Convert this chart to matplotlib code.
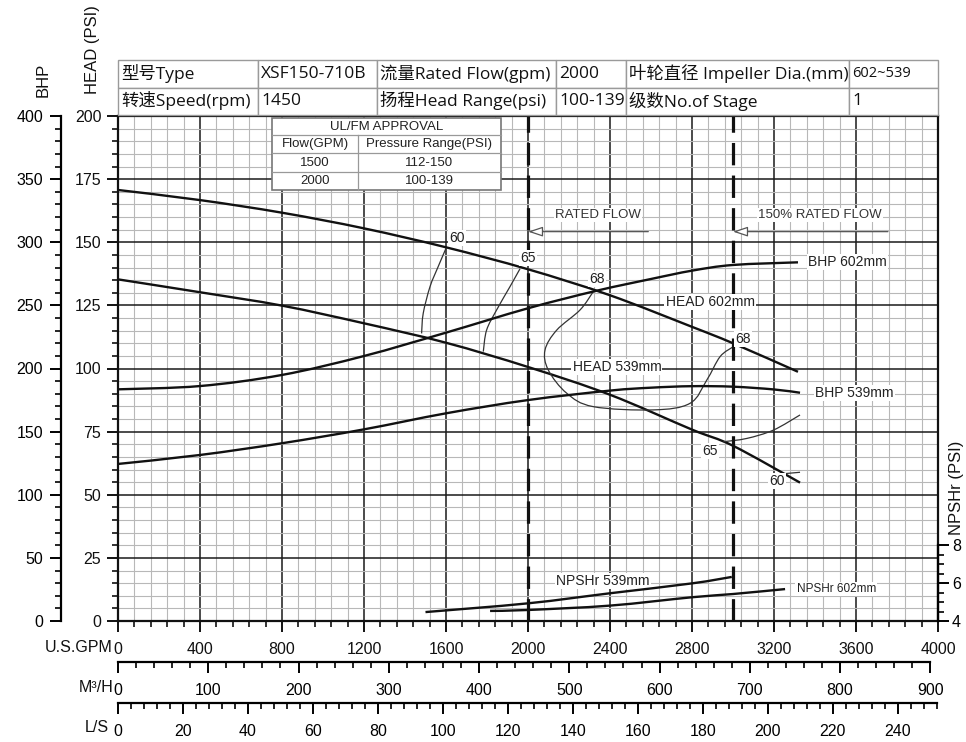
import matplotlib
matplotlib.use("Agg")
import matplotlib.pyplot as plt
from matplotlib.patches import Rectangle, PathPatch
from matplotlib.path import Path
from matplotlib.ticker import MultipleLocator, FixedLocator
import numpy as np

# ---------------- data ----------------
flow_602_head = [0, 400, 800, 1200, 1600, 2000, 2400, 2800, 3000, 3317]
head_602 = [170.7, 166.7, 161.7, 155.5, 148.0, 139.3, 129.0, 116.5, 110.0, 98.7]
flow_539_head = [0, 400, 800, 1200, 1600, 2000, 2400, 2800, 3000, 3327]
head_539 = [135.3, 130.2, 124.9, 117.9, 110.2, 100.6, 89.6, 75.8, 69.4, 54.8]

flow_602_bhp = [0, 400, 800, 1200, 1600, 2000, 2335, 2600, 2800, 3000, 3317]
bhp_602 = [183.5, 186.1, 194.9, 209.9, 228.4, 247.7, 261.6, 270.9, 277.5, 282.0, 284.1]
flow_539_bhp = [0, 400, 800, 1200, 1600, 2000, 2400, 2600, 2800, 3000, 3200, 3327]
bhp_539 = [124.4, 131.5, 140.8, 151.8, 164.5, 175.0, 182.5, 184.8, 186.0, 185.6, 183.4, 180.8]

flow_539_npsh = [1500, 2000, 2400, 2800, 2994]
npsh_539 = [4.47, 4.93, 5.46, 5.98, 6.32]
flow_602_npsh = [1815, 2000, 2400, 2800, 3000, 3254]
npsh_602 = [4.53, 4.58, 4.81, 5.25, 5.42, 5.68]

# iso-efficiency curves (flow gpm, head psi)
eff60a_flow = [1600, 1560, 1522, 1489, 1481]
eff60a_head = [147.6, 140.0, 132.4, 121.9, 113.9]
eff65a_flow = [1961, 1912, 1847, 1798, 1782]
eff65a_head = [139.5, 132.4, 123.2, 115.2, 106.7]
eff68_flow = [2318, 2254, 2140, 2083, 2099, 2189, 2318, 2611, 2790, 2872, 2937, 3001]
eff68_head = [130.4, 123.2, 115.2, 107.3, 99.4, 90.2, 84.9, 83.6, 86.2, 95.4, 104.7, 108.6]
eff65b_flow = [2953, 3067, 3197, 3327]
eff65b_head = [71.0, 72.3, 75.6, 81.6]
eff60b_flow = [3229, 3327]
eff60b_head = [58.2, 58.9]

eff_labels = ["60", "65", "68", "68", "65", "60"]
eff_label_flow = [1654, 2000, 2337, 3049, 2888, 3215]
eff_label_head = [151.7, 143.8, 135.4, 111.7, 67.3, 55.4]

rated_flow = 2000
flow_150 = 3000

gpm_ticks = list(range(0, 4001, 400))
head_ticks = list(range(0, 201, 25))
bhp_ticks = list(range(0, 401, 50))
npsh_ticks = [4, 6, 8]
m3h_ticks = list(range(0, 901, 100))
ls_ticks = list(range(0, 241, 20))

header_row1 = ["型号Type", "XSF150-710B", "流量Rated Flow(gpm)", "2000",
               "叶轮直径 Impeller Dia.(mm)", "602~539"]
header_row2 = ["转速Speed(rpm)", "1450", "扬程Head Range(psi)", "100-139",
               "级数No.of Stage", "1"]
ul_title = "UL/FM APPROVAL"
ul_header = ["Flow(GPM)", "Pressure Range(PSI)"]
ul_flows = ["1500", "2000"]
ul_pressures = ["112-150", "100-139"]

GPM_PER_M3H = 4.4029
GPM_PER_LS = 15.850

# ---------------- figure ----------------
plt.rcParams['font.family'] = ['Liberation Sans', 'DejaVu Sans']
W, H = 966, 742
fig = plt.figure(figsize=(W / 100, H / 100), dpi=100)


def fx(px):
    return px / W


def fy(py):
    return 1 - py / H


def smooth_curve(axis, xs, ys, **kw):
    """Draw a smooth (cubic Bezier, Catmull-Rom style) curve through the points."""
    pts = np.column_stack([xs, ys]).astype(float)
    verts = [pts[0]]
    codes = [Path.MOVETO]
    n = len(pts)
    for i in range(n - 1):
        p0 = pts[i - 1] if i > 0 else pts[i]
        p1 = pts[i]
        p2 = pts[i + 1]
        p3 = pts[i + 2] if i + 2 < n else pts[i + 1]
        verts += [p1 + (p2 - p0) / 6.0, p2 - (p3 - p1) / 6.0, p2]
        codes += [Path.CURVE4] * 3
    axis.add_patch(PathPatch(Path(verts, codes), fill=False, capstyle='butt', **kw))


X0, X1, Y0, Y1 = 118, 938, 621, 116
ax = fig.add_axes([fx(X0), fy(Y0), fx(X1) - fx(X0), fy(Y1) - fy(Y0)])
ax.set_xlim(0, 4000)
ax.set_ylim(0, 200)
ax.set_xticks(gpm_ticks)
ax.xaxis.set_minor_locator(MultipleLocator(80))
ax.set_yticks(head_ticks)
ax.yaxis.set_minor_locator(MultipleLocator(5))
ax.set_axisbelow(True)
ax.grid(True, which='minor', color='#b8b8b8', lw=0.8)
ax.grid(True, which='major', color='#1a1a1a', lw=1.1)
for s in ax.spines.values():
    s.set_linewidth(1.6)
    s.set_color('#111')
ax.tick_params(axis='both', which='major', direction='out', length=8, width=1.4,
               labelsize=11.5, pad=4, colors='#111')
ax.tick_params(axis='both', which='minor', direction='out', length=4, width=1.2, colors='#111')
ax.tick_params(axis='x', which='major', pad=7)

# BHP axis
ax_b = ax.twinx()
ax_b.set_ylim(0, 400)
ax_b.yaxis.tick_left()
ax_b.spines['left'].set_position(('outward', 41))
for k in ['right', 'top', 'bottom']:
    ax_b.spines[k].set_visible(False)
ax_b.spines['left'].set_linewidth(1.6)
ax_b.set_yticks(bhp_ticks)
ax_b.yaxis.set_minor_locator(MultipleLocator(10))
ax_b.tick_params(axis='y', which='major', direction='out', length=8, width=1.4, labelsize=11.5, pad=5)
ax_b.tick_params(axis='y', which='minor', direction='out', length=4, width=1.2)

# NPSHr axis
ax_n = ax.twinx()
ax_n.set_ylim(4, 4 + 505 / 19)
for k in ['left', 'top', 'bottom']:
    ax_n.spines[k].set_visible(False)
ax_n.spines['right'].set_bounds(4, 8)
ax_n.spines['right'].set_linewidth(1.6)
ax_n.set_yticks(npsh_ticks)
ax_n.yaxis.set_minor_locator(FixedLocator([4.5, 5, 5.5, 6.5, 7, 7.5]))
ax_n.tick_params(axis='y', which='major', direction='out', length=8, width=1.4, labelsize=11.5, pad=2)
ax_n.tick_params(axis='y', which='minor', direction='out', length=4, width=1.2)

# ---------------- curves ----------------
lc = '#111111'
smooth_curve(ax, flow_602_head, head_602, ec=lc, lw=1.7, zorder=3)
smooth_curve(ax, flow_539_head, head_539, ec=lc, lw=1.7, zorder=3)
smooth_curve(ax_b, flow_602_bhp, bhp_602, ec=lc, lw=1.7, zorder=3)
smooth_curve(ax_b, flow_539_bhp, bhp_539, ec=lc, lw=1.7, zorder=3)
smooth_curve(ax_n, flow_539_npsh, npsh_539, ec=lc, lw=1.7, zorder=3)
smooth_curve(ax_n, flow_602_npsh, npsh_602, ec=lc, lw=1.7, zorder=3)

ec = '#333333'
for fl, hd in [(eff60a_flow, eff60a_head), (eff65a_flow, eff65a_head), (eff68_flow, eff68_head),
               (eff65b_flow, eff65b_head), (eff60b_flow, eff60b_head)]:
    smooth_curve(ax, fl, hd, ec=ec, lw=0.9, zorder=3)

wb = dict(fc='white', ec='none', pad=0.8)
for t, xv, yv in zip(eff_labels, eff_label_flow, eff_label_head):
    ax.text(xv, yv, t, ha='center', va='center', fontsize=10, color='#222', bbox=wb, zorder=4)

# rated flow lines
for xv in [rated_flow, flow_150]:
    ax.axvline(xv, color='#111', lw=2.3, linestyle=(0, (7, 3.2)), zorder=3)

# curve labels
ax.text(3366, 142.2, "BHP 602mm", ha='left', va='center', fontsize=10, color='#222', bbox=wb, zorder=4)
ax.text(2888, 126.3, "HEAD 602mm", ha='center', va='center', fontsize=10, color='#222', bbox=wb, zorder=4)
ax.text(2434, 100.6, "HEAD 539mm", ha='center', va='center', fontsize=10, color='#222', bbox=wb, zorder=4)
ax.text(3400, 90.4, "BHP 539mm", ha='left', va='center', fontsize=10, color='#222', bbox=wb, zorder=4)
ax.text(2366, 15.8, "NPSHr 539mm", ha='center', va='center', fontsize=10, color='#222', bbox=wb, zorder=4)
ax.text(3310, 12.7, "NPSHr 602mm", ha='left', va='center', fontsize=8.5, color='#222', bbox=wb, zorder=4)

# rated flow annotations
ax.text(2341, 160.8, "RATED FLOW", ha='center', va='center', fontsize=9.5, color='#333', bbox=wb, zorder=4)
ax.text(3424, 160.8, "150% RATED FLOW", ha='center', va='center', fontsize=9.5, color='#333', bbox=wb, zorder=4)
for x_tip, x_tail in [(rated_flow, 2587), (flow_150, 3756)]:
    ax.annotate('', xy=(x_tip, 154.2), xytext=(x_tail, 154.2),
                arrowprops=dict(arrowstyle='-|>,head_length=0.9,head_width=0.3', fc='white',
                                ec='#555', lw=0.9, shrinkA=0, shrinkB=0), zorder=4)


# ---------------- lower rulers ----------------
def ruler(py, xmax, bound, major, minor):
    a = fig.add_axes([fx(X0), fy(py), fx(X1) - fx(X0), 0.0005])
    a.set_xlim(0, xmax)
    a.set_ylim(0, 1)
    a.patch.set_visible(False)
    for k in ['left', 'right', 'top']:
        a.spines[k].set_visible(False)
    a.spines['bottom'].set_bounds(0, bound)
    a.spines['bottom'].set_linewidth(1.6)
    a.set_yticks([])
    a.set_xticks(major)
    a.xaxis.set_minor_locator(FixedLocator(np.arange(0, bound + 0.01, minor)))
    a.tick_params(axis='x', which='major', direction='out', length=8, width=1.4, labelsize=11.5, pad=7)
    a.tick_params(axis='x', which='minor', direction='out', length=4, width=1.2)
    return a


ax_m3 = ruler(662, 4000 / GPM_PER_M3H, 900, m3h_ticks, 20)
ax_ls = ruler(703, 4000 / GPM_PER_LS, 252, ls_ticks, 4)

fig.text(fx(113), fy(648), "U.S.GPM", ha='right', va='center', fontsize=11.5, color='#111')
fig.text(fx(113), fy(688), "M³/H", ha='right', va='center', fontsize=11.5, color='#111')
fig.text(fx(109), fy(728), "L/S", ha='right', va='center', fontsize=11.5, color='#111')

# axis titles
fig.text(fx(43), fy(80), "BHP", rotation=90, ha='center', va='center', fontsize=12, color='#111')
fig.text(fx(93), fy(50), "HEAD (PSI)", rotation=90, ha='center', va='center', fontsize=12, color='#111')
fig.text(fx(957), fy(488), "NPSHr (PSI)", rotation=90, ha='center', va='center', fontsize=12, color='#111')

# ---------------- header table ----------------
cols = [118, 258, 377, 556, 626, 849, 938]
rows = [60, 88, 115]
hfam = ['Open Sans', 'Noto Sans CJK SC', 'DejaVu Sans']
for r, texts in enumerate([header_row1, header_row2]):
    for c, t in enumerate(texts):
        x0, x1 = cols[c], cols[c + 1]
        y0, y1 = rows[r], rows[r + 1]
        fig.add_artist(Rectangle((fx(x0), fy(y1)), fx(x1) - fx(x0), fy(y0) - fy(y1),
                                 transform=fig.transFigure, fc='white', ec='#9a9a9a', lw=1.0, zorder=5))
        fs = 10.5 if t == "602~539" else 12.5
        fig.text(fx(x0 + 3), fy((y0 + y1) / 2 - 0.5), t, ha='left', va='center', fontsize=fs,
                 family=hfam, color='#111', zorder=6)

# ---------------- UL/FM table ----------------
ux = [272, 358, 501]
uy = [118, 135, 153, 172, 190]
fig.add_artist(Rectangle((fx(ux[0]), fy(uy[-1])), fx(ux[2]) - fx(ux[0]), fy(uy[0]) - fy(uy[-1]),
                         transform=fig.transFigure, fc='white', ec='#777', lw=1.2, zorder=5))
for yy in uy[1:-1]:
    fig.add_artist(plt.Line2D([fx(ux[0]), fx(ux[2])], [fy(yy), fy(yy)], transform=fig.transFigure,
                              color='#999', lw=0.9, zorder=6))
fig.add_artist(plt.Line2D([fx(ux[1]), fx(ux[1])], [fy(uy[1]), fy(uy[-1])], transform=fig.transFigure,
                          color='#999', lw=0.9, zorder=6))
fig.text(fx((ux[0] + ux[2]) / 2), fy((uy[0] + uy[1]) / 2), ul_title, ha='center', va='center',
         fontsize=9.5, color='#222', zorder=7)
row_texts = [ul_header] + [[f, p] for f, p in zip(ul_flows, ul_pressures)]
for i, (a, b) in enumerate(row_texts):
    yc = (uy[i + 1] + uy[i + 2]) / 2
    fig.text(fx((ux[0] + ux[1]) / 2), fy(yc), a, ha='center', va='center', fontsize=9.5, color='#222', zorder=7)
    fig.text(fx((ux[1] + ux[2]) / 2), fy(yc), b, ha='center', va='center', fontsize=9.5, color='#222', zorder=7)

fig.savefig("out.png", dpi=100)
